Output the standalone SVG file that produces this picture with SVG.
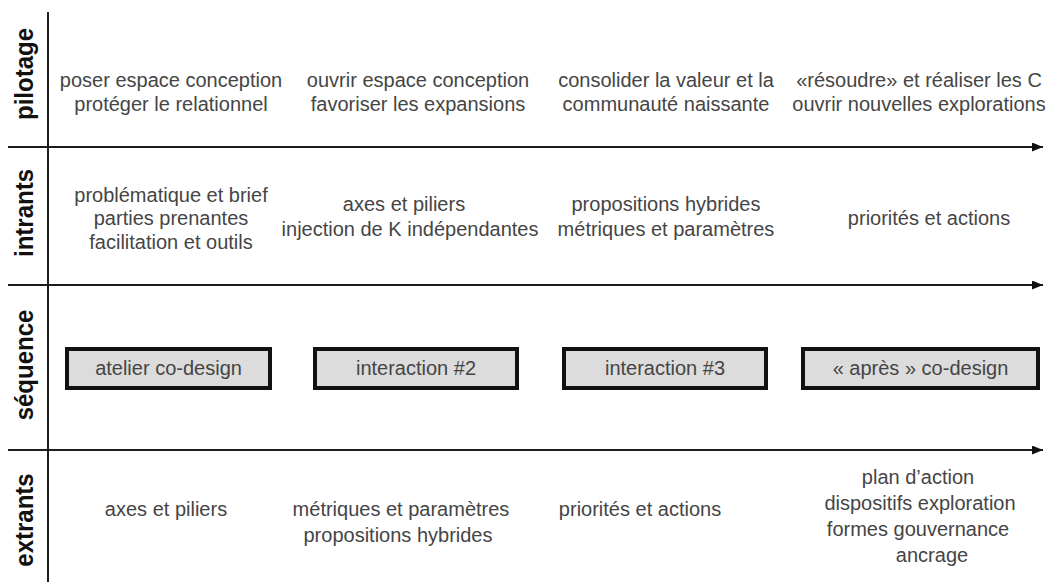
<svg xmlns="http://www.w3.org/2000/svg" width="1049" height="582" viewBox="0 0 1049 582">
<defs>
<style>
.t{font-family:"Liberation Sans",Arial,Helvetica,sans-serif;font-size:20px;fill:#454545;text-anchor:middle}
.lab{font-family:"Liberation Sans",Arial,Helvetica,sans-serif;font-size:24px;font-weight:bold;fill:#111;text-anchor:middle}
.ax{stroke:#1e1e1e;stroke-width:2;fill:none}
.box rect{fill:#dcdcdc;stroke:#111;stroke-width:4}
</style>
<marker id="ah" viewBox="0 0 11 9" refX="11" refY="4.5" markerWidth="11" markerHeight="9" markerUnits="userSpaceOnUse" orient="auto">
<path d="M0,0 L11,4.5 L0,9 Z" fill="#111"/>
</marker>
</defs>
<rect width="1049" height="582" fill="#fff"/>
<g id="connectors">
<line class="ax" x1="48" y1="12" x2="48" y2="582"/>
<line class="ax" x1="8" y1="147" x2="1043" y2="147" marker-end="url(#ah)"/>
<line class="ax" x1="8" y1="285" x2="1043" y2="285" marker-end="url(#ah)"/>
<line class="ax" x1="8" y1="450" x2="1043" y2="450" marker-end="url(#ah)"/>
</g>
<g id="labels">
<text class="lab" transform="translate(33,74) rotate(-90) scale(1,1.1)">pilotage</text>
<text class="lab" transform="translate(33,213) rotate(-90) scale(1,1.1)">intrants</text>
<text class="lab" transform="translate(33,365) rotate(-90) scale(1,1.1)">séquence</text>
<text class="lab" transform="translate(33,520) rotate(-90) scale(1,1.1)">extrants</text>
</g>
<g id="pilotage">
<text class="t" x="171" y="87">poser espace conception</text>
<text class="t" x="171" y="111">protéger le relationnel</text>
<text class="t" x="418" y="87">ouvrir espace conception</text>
<text class="t" x="418" y="111">favoriser les expansions</text>
<text class="t" x="666" y="87">consolider la valeur et la</text>
<text class="t" x="666" y="111">communauté naissante</text>
<text class="t" x="919" y="87">«résoudre» et réaliser les C</text>
<text class="t" x="919" y="111">ouvrir nouvelles explorations</text>
</g>
<g id="intrants">
<text class="t" x="171" y="202">problématique et brief</text>
<text class="t" x="171" y="225">parties prenantes</text>
<text class="t" x="171" y="249">facilitation et outils</text>
<text class="t" x="404" y="211">axes et piliers</text>
<text class="t" x="410" y="236">injection de K indépendantes</text>
<text class="t" x="666" y="211">propositions hybrides</text>
<text class="t" x="666" y="236">métriques et paramètres</text>
<text class="t" x="929" y="225">priorités et actions</text>
</g>
<g id="sequence">
<g id="box1" class="box"><rect x="67" y="349" width="203" height="39"/><text class="t" x="168.5" y="375">atelier co-design</text></g>
<g id="box2" class="box"><rect x="315" y="349" width="202" height="39"/><text class="t" x="416" y="375">interaction #2</text></g>
<g id="box3" class="box"><rect x="564" y="349" width="202" height="39"/><text class="t" x="665" y="375">interaction #3</text></g>
<g id="box4" class="box"><rect x="803" y="349" width="235" height="39"/><text class="t" x="920.5" y="375">« après » co-design</text></g>
</g>
<g id="extrants">
<text class="t" x="166" y="516">axes et piliers</text>
<text class="t" x="401" y="516">métriques et paramètres</text>
<text class="t" x="398" y="542">propositions hybrides</text>
<text class="t" x="640" y="516">priorités et actions</text>
<text class="t" x="918" y="484">plan d’action</text>
<text class="t" x="920" y="510">dispositifs exploration</text>
<text class="t" x="918" y="536">formes gouvernance</text>
<text class="t" x="932" y="562">ancrage</text>
</g>
</svg>
